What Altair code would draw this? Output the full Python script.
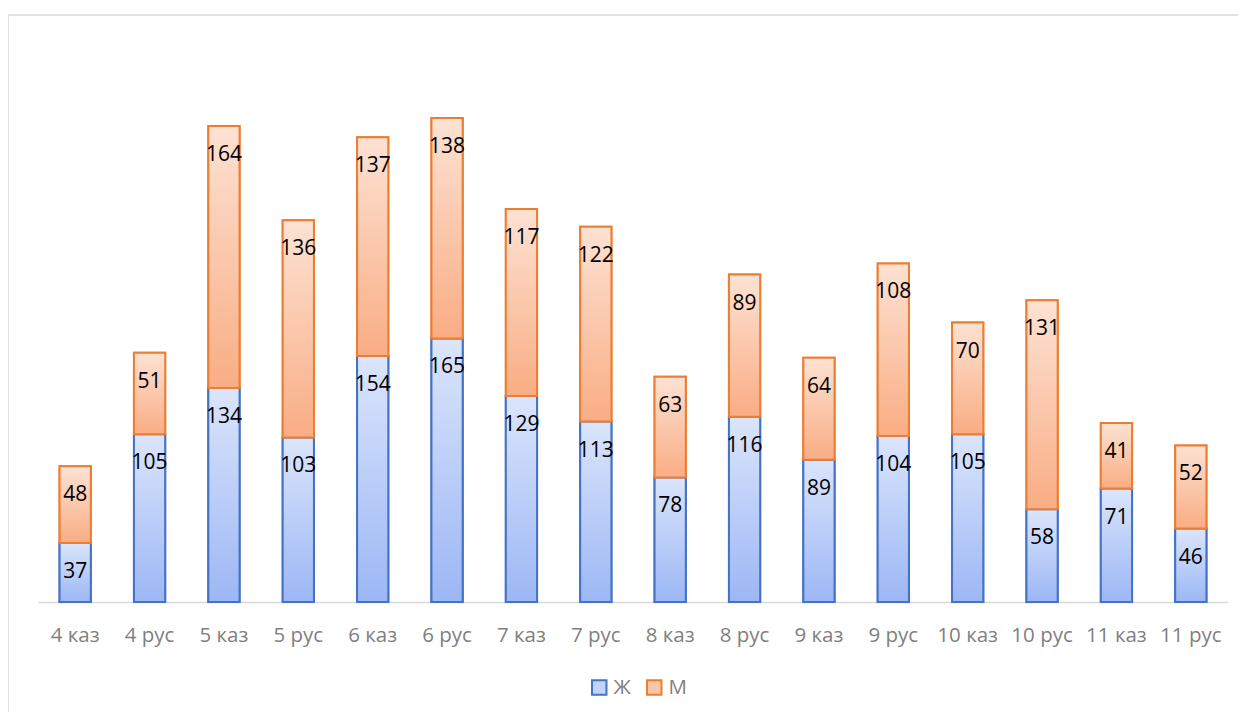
import altair as alt
import pandas as pd

categories = ["4 каз", "4 рус", "5 каз", "5 рус", "6 каз", "6 рус", "7 каз", "7 рус",
              "8 каз", "8 рус", "9 каз", "9 рус", "10 каз", "10 рус", "11 каз", "11 рус"]
zh = [37, 105, 134, 103, 154, 165, 129, 113, 78, 116, 89, 104, 105, 58, 71, 46]
m = [48, 51, 164, 136, 137, 138, 117, 122, 63, 89, 64, 108, 70, 131, 41, 52]
series = ["Ж", "М"]

rows = []
for c, a, b in zip(categories, zh, m):
    rows.append({"cat": c, "g": "Ж", "val": a, "lo": 0, "hi": a})
    rows.append({"cat": c, "g": "М", "val": b, "lo": a, "hi": a + b})
df = pd.DataFrame(rows)

FONT = "Open Sans"
BLUE, ORANGE = "#4472c4", "#ed7d31"
blue_grad = {"gradient": "linear", "x1": 0, "y1": 0, "x2": 0, "y2": 1,
             "stops": [{"offset": 0, "color": "#dbe5fc"}, {"offset": 1, "color": "#9cb7f5"}]}
orange_grad = {"gradient": "linear", "x1": 0, "y1": 0, "x2": 0, "y2": 1,
               "stops": [{"offset": 0, "color": "#fde2d3"}, {"offset": 1, "color": "#f9ad84"}]}

xenc = alt.X("cat:N", sort=categories, title=None,
             scale=alt.Scale(paddingInner=0.58, paddingOuter=0.29),
             axis=alt.Axis(labelAngle=0, ticks=False, domainColor="#d9d9d9", domainWidth=1.5,
                           labelColor="#7f7f7f", labelFontSize=20.5, labelFont=FONT,
                           labelPadding=23))
yscale = alt.Scale(domain=[0, 350])
leg = alt.Legend(orient="none", legendX=551, legendY=634, direction="horizontal",
                 symbolType="square", symbolSize=210, symbolStrokeWidth=2,
                 labelFontSize=20.5, labelFont=FONT, labelColor="#7f7f7f",
                 columnPadding=12, labelOffset=4)

base = alt.Chart(df)
legend_layer = base.mark_bar(strokeWidth=2, opacity=1).encode(
    x=xenc, y=alt.Y("lo:Q", scale=yscale, axis=None), y2="hi:Q",
    fill=alt.Fill("g:N", scale=alt.Scale(domain=series, range=["#c3d3fa", "#fcc6a8"]), title=None, legend=leg),
    stroke=alt.Stroke("g:N", scale=alt.Scale(domain=series, range=[BLUE, ORANGE]), title=None, legend=leg))
bars_z = base.transform_filter("datum.g == 'Ж'").mark_bar(fill=blue_grad, stroke=BLUE, strokeWidth=2).encode(
    x=xenc, y=alt.Y("lo:Q", scale=yscale, axis=None), y2="hi:Q")
bars_m = base.transform_filter("datum.g == 'М'").mark_bar(fill=orange_grad, stroke=ORANGE, strokeWidth=2).encode(
    x=xenc, y=alt.Y("lo:Q", scale=yscale, axis=None), y2="hi:Q")
labels = base.mark_text(dy=29, baseline="middle", fontSize=21, font=FONT, color="#000000").encode(
    x=alt.X("cat:N", sort=categories), y=alt.Y("hi:Q", scale=yscale), text="val:Q")
frame = alt.Chart(pd.DataFrame({"a": [0]})).mark_rect(fill=None, stroke="#d9d9d9", strokeWidth=1.5, clip=False).encode(
    x=alt.value(-30), x2=alt.value(1300), y=alt.value(-28), y2=alt.value(800))

chart = alt.layer(frame, legend_layer, bars_z, bars_m, labels).properties(
    width=1190, height=559,
    autosize=alt.AutoSizeParams(type="none"),
    padding={"left": 30, "top": 35, "right": 10, "bottom": 110},
).configure_view(stroke=None)

chart.save("out.html", embed_options={"renderer": "svg", "actions": False})
